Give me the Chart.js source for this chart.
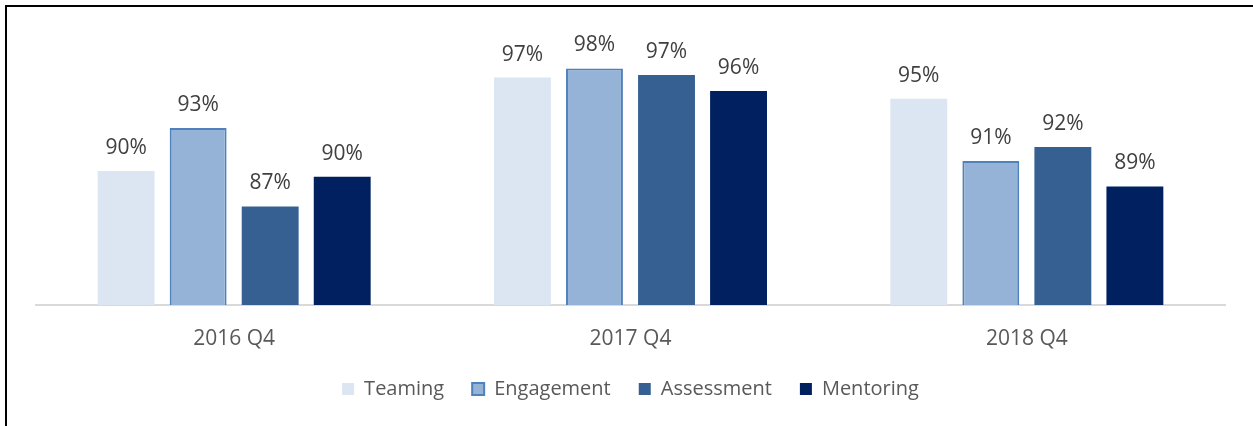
<!DOCTYPE html>
<html>
<head>
<meta charset="utf-8">
<title>Q4 Survey</title>
<script src="https://cdn.jsdelivr.net/npm/chart.js@4.4.1/dist/chart.umd.min.js"></script>
<style>
	html, body {
		margin: 0;
		padding: 0;
		background: #fff;
		overflow: hidden;
	}
	.frame {
		position: absolute;
		left: 5px;
		top: 5px;
		width: 1400px;
		height: 600px;
		border-top: 2px solid #000;
		border-left: 2px solid #000;
	}
	#surveyChart {
		position: absolute;
		left: 0;
		top: 0;
	}
</style>
</head>
<body>
<div class="frame"></div>
<canvas id="surveyChart" width="1253" height="426"></canvas>
<script>
'use strict';

// 데이터
const categories = ['2016 Q4', '2017 Q4', '2018 Q4'];
const seriesNames = ['Teaming', 'Engagement', 'Assessment', 'Mentoring'];
const teaming = [90.0, 96.97, 95.39];
const engagement = [93.2, 97.65, 90.75];
const assessment = [87.36, 97.17, 91.8];
const mentoring = [89.57, 95.97, 88.85];
const axisMin = 80;
const axisMax = 100;

const fillColors = ['#DCE6F2', '#95B3D7', '#366092', '#002060'];
const lineColors = ['#DCE6F2', '#4F81BD', '#366092', '#002060'];
const lineWidths = [0, 2, 0, 0];

const FONT = '"Open Sans", "Liberation Sans", sans-serif';

// 막대 위에 값 표시
const valueLabelPlugin = {
	id: 'valueLabels',
	afterDatasetsDraw(chart) {
		const ctx = chart.ctx;
		ctx.save();
		ctx.font = '21px ' + FONT;
		ctx.fillStyle = '#404040';
		ctx.textAlign = 'center';
		ctx.textBaseline = 'alphabetic';
		chart.data.datasets.forEach((ds, i) => {
			const meta = chart.getDatasetMeta(i);
			meta.data.forEach((bar, j) => {
				ctx.fillText(Math.round(ds.data[j]) + '%', bar.x, bar.y - 17);
			});
		});
		ctx.restore();
	}
};

// 차트 초기화
function initSurveyChart() {
	const survey_chart = document.getElementById('surveyChart');
	if (!survey_chart) return;

	const values = [teaming, engagement, assessment, mentoring];
	const datasets = seriesNames.map((name, i) => ({
		label: name,
		data: values[i],
		backgroundColor: fillColors[i],
		borderColor: lineColors[i],
		borderWidth: lineWidths[i],
		categoryPercentage: 0.727,
		barPercentage: 0.79
	}));

	new Chart(survey_chart, {
		type: 'bar',
		data: {
			labels: categories,
			datasets: datasets
		},
		options: {
			responsive: false,
			animation: false,
			layout: {
				padding: { left: 36, right: 28, top: 37, bottom: 17 }
			},
			plugins: {
				legend: {
					position: 'bottom',
					labels: {
						boxWidth: 12,
						boxHeight: 12,
						padding: 28,
						color: '#595959',
						font: { family: FONT, size: 20 }
					}
				},
				tooltip: { enabled: false }
			},
			scales: {
				x: {
					grid: {
						display: true,
						drawOnChartArea: false,
						drawTicks: false
					},
					border: {
						display: true,
						color: '#D9D9D9',
						width: 2
					},
					ticks: {
						padding: 21,
						color: '#595959',
						font: { family: FONT, size: 21 }
					},
					// 축 높이 고정 (범례 위치 맞춤)
					afterFit: function(scale) {
						scale.height = 46;
					}
				},
				y: {
					display: false,
					min: axisMin,
					max: axisMax
				}
			}
		},
		plugins: [valueLabelPlugin]
	});
}

document.addEventListener('DOMContentLoaded', function() {
	initSurveyChart();
});
</script>
</body>
</html>
